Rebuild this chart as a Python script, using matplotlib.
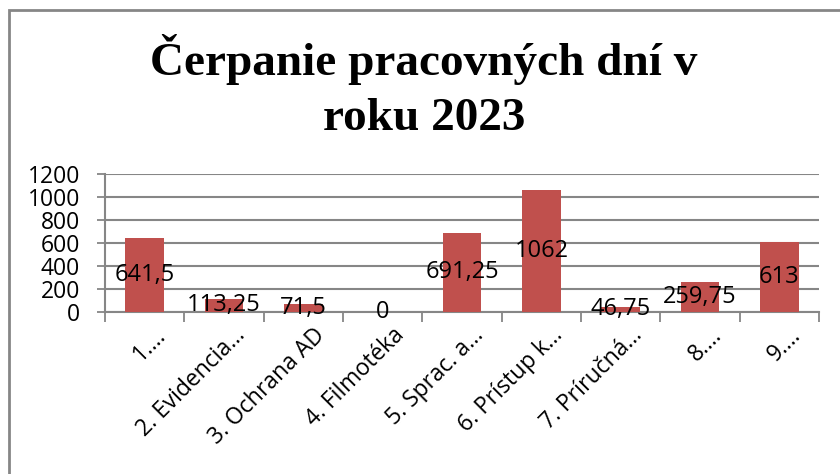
import matplotlib
matplotlib.use("Agg")
import matplotlib.pyplot as plt
from matplotlib.patches import Rectangle

# data
categories = ["1.…", "2. Evidencia…", "3. Ochrana AD", "4. Filmotéka", "5. Sprac. a…",
              "6. Prístup k…", "7. Príručná…", "8.…", "9.…"]
days = [641.5, 113.25, 71.5, 0, 691.25, 1062, 46.75, 259.75, 613]
day_labels = ["641,5", "113,25", "71,5", "0", "691,25", "1062", "46,75", "259,75", "613"]
yticks = [0, 200, 400, 600, 800, 1000, 1200]
title_lines = ["Čerpanie pracovných dní v", "roku 2023"]

bar_color = "#C0504D"
grid_color = "#868686"
sans = ["Open Sans", "DejaVu Sans"]
H = 474.0

fig = plt.figure(figsize=(8.4, 4.74), dpi=100)
ax = fig.add_axes([105 / 840, 1 - 312 / H, (819 - 105) / 840, (312 - 174) / H])

x = list(range(len(categories)))
ax.bar(x, days, width=0.49, color=bar_color, zorder=3)

# data labels centred in the bars
for xi, v, lab in zip(x, days, day_labels):
    ax.text(xi, v / 2, lab, ha="center", va="center", fontsize=17,
            family=sans, color="black", zorder=4)

ax.set_xlim(-0.5, len(categories) - 0.5)
ax.set_ylim(0, 1200)
ax.set_yticks(yticks)
ax.set_yticklabels([str(t) for t in yticks], family=sans, fontsize=16.5)
ax.yaxis.grid(True, color=grid_color, linewidth=1.5, zorder=0)

# category ticks between bars, labels rotated under bar centres
ax.set_xticks([i - 0.5 for i in range(len(categories) + 1)])
ax.set_xticklabels([])
ax.tick_params(axis="x", length=7, width=1.3, color=grid_color, direction="out")
ax.tick_params(axis="y", length=6, width=1.3, color=grid_color, pad=12)
for xi, lab in zip(x, categories):
    ax.annotate(lab, xy=(xi, 0), xycoords=("data", "axes fraction"),
                xytext=(18, -20), textcoords="offset pixels",
                rotation=45, rotation_mode="anchor", ha="right", va="center",
                fontsize=16.5, family=sans)

for s in ["top", "right"]:
    ax.spines[s].set_visible(False)
for s in ["left", "bottom"]:
    ax.spines[s].set_color(grid_color)
    ax.spines[s].set_linewidth(1.5)

# two-line title, placed by baseline
for line, base in zip(title_lines, [75, 130]):
    fig.text(424 / 840, 1 - base / H, line, ha="center", va="baseline",
             fontsize=34, fontweight="bold",
             family=["Liberation Serif", "DejaVu Serif"])

# chart border (runs off the right and bottom edges)
fig.add_artist(Rectangle((9 / 840, -0.1), 1.2, 1.1 - 10 / H, transform=fig.transFigure,
                         fill=False, edgecolor=grid_color, linewidth=2))

fig.savefig("out.png", dpi=100, facecolor="white")
